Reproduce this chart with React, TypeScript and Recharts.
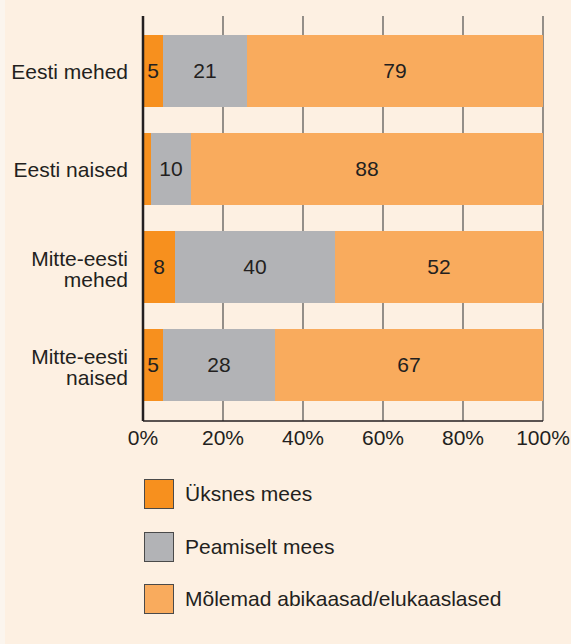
import { Bar, BarChart, CartesianGrid, LabelList, XAxis, YAxis } from 'recharts'

const FONT = '"Liberation Sans", Arial, sans-serif'
const INK = '#231f20'

// categories (top to bottom), \n marks a line break in the axis label
const groups = ['Eesti mehed', 'Eesti naised', 'Mitte-eesti\nmehed', 'Mitte-eesti\nnaised']

// segment lengths (percent)
const onlyMan = [5, 2, 8, 5]
const mostlyMan = [21, 10, 40, 28]
const bothSpouses = [74, 88, 52, 67]

// numbers printed inside the segments (the first row says 79 in the original)
const onlyManLabels = ['5', '', '8', '5']
const mostlyManLabels = ['21', '10', '40', '28']
const bothSpousesLabels = ['79', '88', '52', '67']

const xTicks = [0, 20, 40, 60, 80, 100]

const series = [
    { key: 'only', name: 'Üksnes mees', color: '#f7901e' },
    { key: 'mostly', name: 'Peamiselt mees', color: '#b2b3b6' },
    { key: 'both', name: 'Mõlemad abikaasad/elukaaslased', color: '#f9ab5d' },
]

const data = groups.map((name, i) => ({
    name,
    only: onlyMan[i],
    mostly: mostlyMan[i],
    both: bothSpouses[i],
    onlyLabel: onlyManLabels[i],
    mostlyLabel: mostlyManLabels[i],
    bothLabel: bothSpousesLabels[i],
}))

function GroupTick(props: any) {
    const { x, y, payload } = props
    const lines: string[] = String(payload.value).split('\n')
    const first = lines.length > 1 ? -1 : 8
    return (
        <g>
            {lines.map((line, i) => (
                <text
                    key={i}
                    x={x}
                    y={y + first + i * 21}
                    textAnchor="end"
                    fill={INK}
                    fontSize={21}
                    fontFamily={FONT}
                >
                    {line}
                </text>
            ))}
        </g>
    )
}

export default function App() {
    return (
        <div
            style={{
                position: 'absolute',
                left: 0,
                top: 0,
                width: 571,
                height: 644,
                background: 'linear-gradient(to right, #fbf5ee 0 5px, #fdf0e2 5px)',
                fontFamily: FONT,
            }}
        >
            <BarChart
                width={571}
                height={644}
                data={data}
                layout="vertical"
                margin={{ top: 16, right: 28, left: 0, bottom: 193 }}
            >
                <CartesianGrid horizontal={false} stroke="#4d4d4d" strokeWidth={1.2} />
                <XAxis
                    type="number"
                    domain={[0, 100]}
                    ticks={xTicks}
                    tickFormatter={(v) => `${v}%`}
                    tickLine={false}
                    tickSize={0}
                    tickMargin={9}
                    axisLine={{ stroke: INK, strokeWidth: 1.5 }}
                    tick={{ fill: INK, fontSize: 21, fontFamily: FONT }}
                    height={30}
                />
                <YAxis
                    type="category"
                    dataKey="name"
                    width={143}
                    tickLine={false}
                    tickSize={0}
                    tickMargin={15}
                    axisLine={{ stroke: INK, strokeWidth: 2.5 }}
                    padding={{ top: 6, bottom: 7 }}
                    tick={<GroupTick />}
                    interval={0}
                />
                {series.map((s) => (
                    <Bar
                        key={s.key}
                        dataKey={s.key}
                        name={s.name}
                        stackId="a"
                        fill={s.color}
                        barSize={72}
                        isAnimationActive={false}
                    >
                        <LabelList
                            dataKey={`${s.key}Label`}
                            position="center"
                            fill={INK}
                            fontSize={21}
                            fontFamily={FONT}
                        />
                    </Bar>
                ))}
            </BarChart>

            <div style={{ position: 'absolute', left: 144, top: 479 }}>
                {series.map((s) => (
                    <div
                        key={s.key}
                        style={{ display: 'flex', alignItems: 'center', height: 30, marginBottom: 22.5 }}
                    >
                        <div
                            style={{
                                width: 28,
                                height: 28,
                                background: s.color,
                                border: '1px solid #4a4a4a',
                            }}
                        />
                        <span style={{ marginLeft: 11, fontSize: 21, color: INK }}>{s.name}</span>
                    </div>
                ))}
            </div>
        </div>
    )
}
